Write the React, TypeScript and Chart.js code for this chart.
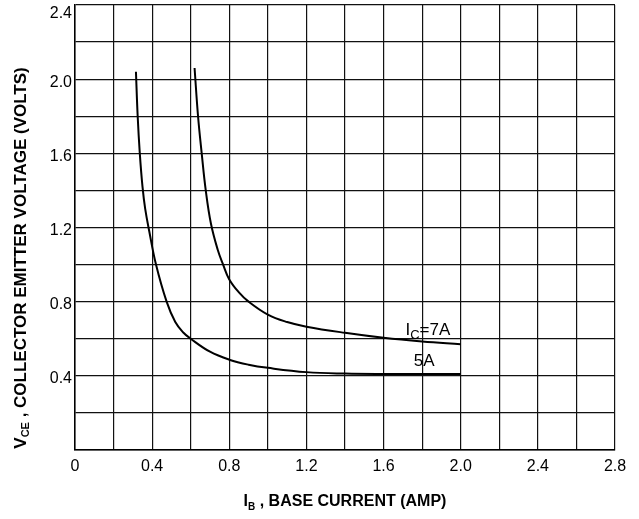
import React, { useEffect, useRef } from "react";
import { Chart, registerables } from "chart.js";

Chart.register(...registerables);

// I_C = 5A curve
const ib5A = [0.316, 0.325, 0.336, 0.35, 0.364, 0.385, 0.42, 0.475, 0.52, 0.56, 0.6, 0.7, 0.8, 0.9, 1.0, 1.2, 1.4, 1.6, 2.0];
const vce5A = [2.04, 1.8, 1.6, 1.42, 1.3, 1.18, 1.0, 0.8, 0.69, 0.635, 0.6, 0.53, 0.487, 0.46, 0.443, 0.42, 0.412, 0.41, 0.41];

// I_C = 7A curve
const ib7A = [0.62, 0.638, 0.657, 0.678, 0.705, 0.74, 0.768, 0.8, 0.85, 0.9, 1.0, 1.1, 1.2, 1.4, 1.6, 1.8, 2.0];
const vce7A = [2.06, 1.8, 1.6, 1.4, 1.22, 1.08, 1.0, 0.92, 0.85, 0.8, 0.73, 0.69, 0.665, 0.632, 0.605, 0.585, 0.57];

const xTickValues = [0, 0.4, 0.8, 1.2, 1.6, 2.0, 2.4, 2.8];
const xTickLabels = ["0", "0.4", "0.8", "1.2", "1.6", "2.0", "2.4", "2.8"];
const yTickValues = [0.4, 0.8, 1.2, 1.6, 2.0, 2.4];
const yTickLabels = ["0.4", "0.8", "1.2", "1.6", "2.0", "2.4"];

// curve labels: [x, y]
const label7A = [1.83, 0.645];
const label5A = [1.81, 0.48];

const FONT = "'Liberation Sans', Arial, sans-serif";

type Part = { t: string; sub?: boolean };

function drawRich(ctx: CanvasRenderingContext2D, parts: Part[], cx: number, cy: number, size: number, weight: string, subScale = 0.62) {
  const subSize = Math.round(size * subScale);
  let total = 0;
  const widths: number[] = [];
  for (const p of parts) {
    ctx.font = `${weight} ${p.sub ? subSize : size}px ${FONT}`;
    const w = ctx.measureText(p.t).width;
    widths.push(w);
    total += w;
  }
  let x = cx - total / 2;
  ctx.textAlign = "left";
  ctx.textBaseline = "middle";
  parts.forEach((p, i) => {
    ctx.font = `${weight} ${p.sub ? subSize : size}px ${FONT}`;
    ctx.fillText(p.t, x, p.sub ? cy + size * 0.3 : cy);
    x += widths[i];
  });
}

const textPlugin = {
  id: "customTexts",
  afterDraw(chart: any) {
    const ctx: CanvasRenderingContext2D = chart.ctx;
    const xs = chart.scales.x;
    const ys = chart.scales.y;
    const area = chart.chartArea;
    ctx.save();
    ctx.fillStyle = "#000";
    // y tick labels
    ctx.font = `16px ${FONT}`;
    ctx.textAlign = "right";
    ctx.textBaseline = "middle";
    yTickValues.forEach((v, i) => {
      let y = ys.getPixelForValue(v) + 3;
      if (y < area.top + 9) y = area.top + 9;
      ctx.fillText(yTickLabels[i], area.left - 3, y);
    });
    // x title
    drawRich(ctx, [{ t: "I" }, { t: "B", sub: true }, { t: " , BASE CURRENT (AMP)" }], (area.left + area.right) / 2, 502, 16, "bold");
    // y title
    ctx.save();
    ctx.translate(21, 258);
    ctx.rotate(-Math.PI / 2);
    drawRich(ctx, [{ t: "V" }, { t: "CE", sub: true }, { t: " , COLLECTOR EMITTER VOLTAGE (VOLTS)" }], 0, 0, 17, "bold");
    ctx.restore();
    // curve labels
    drawRich(ctx, [{ t: "I" }, { t: "C", sub: true }, { t: "=7A" }], xs.getPixelForValue(label7A[0]), ys.getPixelForValue(label7A[1]), 17, "normal", 0.75);
    drawRich(ctx, [{ t: "5A" }], xs.getPixelForValue(label5A[0]), ys.getPixelForValue(label5A[1]), 17, "normal");
    ctx.restore();
  },
};

function labelFor(values: number[], labels: string[], v: number) {
  const i = values.findIndex((t) => Math.abs(t - v) < 1e-6);
  return i >= 0 ? labels[i] : "";
}

export default function App() {
  const ref = useRef<HTMLCanvasElement | null>(null);
  useEffect(() => {
    if (!ref.current) return;
    const lineStyle = {
      showLine: true,
      borderColor: "#000",
      borderWidth: 2,
      pointRadius: 0,
      tension: 0.4,
    };
    const chart = new Chart(ref.current, {
      type: "scatter",
      data: {
        datasets: [
          { label: "5A", data: ib5A.map((x, i) => ({ x, y: vce5A[i] })), ...lineStyle },
          { label: "7A", data: ib7A.map((x, i) => ({ x, y: vce7A[i] })), ...lineStyle },
        ],
      },
      options: {
        animation: false,
        responsive: true,
        maintainAspectRatio: false,
        layout: { padding: { top: 5, right: 24, bottom: 0, left: 0 } },
        plugins: { legend: { display: false }, tooltip: { enabled: false } },
        scales: {
          x: {
            type: "linear",
            min: 0,
            max: 2.8,
            grid: { color: "#111", lineWidth: 1.2, drawTicks: false },
            border: { color: "#000", width: 1.5 },
            ticks: {
              stepSize: 0.2,
              autoSkip: false,
              maxRotation: 0,
              padding: 7,
              color: "#000",
              font: { family: FONT, size: 16 },
              callback: (v: any) => labelFor(xTickValues, xTickLabels, Number(v)),
            },
            afterFit: (s: any) => {
              s.height = 69;
              s.paddingLeft = 0;
              s.paddingRight = 0;
            },
          },
          y: {
            type: "linear",
            min: 0,
            max: 2.4,
            grid: { color: "#111", lineWidth: 1.2, drawTicks: false },
            border: { color: "#000", width: 1.5 },
            ticks: {
              stepSize: 0.2,
              autoSkip: false,
              padding: 4,
              color: "rgba(0,0,0,0)",
              font: { family: FONT, size: 16 },
              callback: () => "",
            },
            afterFit: (s: any) => {
              s.width = 75;
              s.paddingTop = 0;
              s.paddingBottom = 0;
            },
          },
        },
      },
      plugins: [textPlugin],
    } as any);
    return () => chart.destroy();
  }, []);
  return (
    <div style={{ position: "absolute", left: 0, top: 0, width: 639, height: 519, background: "#fff" }}>
      <canvas ref={ref} />
    </div>
  );
}
